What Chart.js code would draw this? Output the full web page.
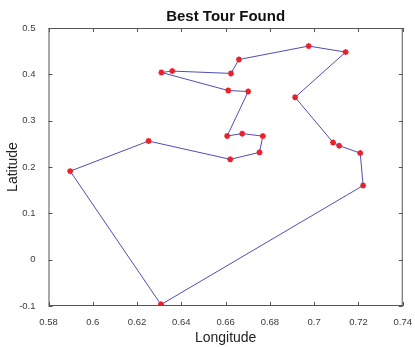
<!DOCTYPE html>
<html>
<head>
<meta charset="utf-8">
<script src="https://cdn.jsdelivr.net/npm/chart.js@4/dist/chart.umd.min.js"></script>
<style>
  html, body { margin: 0; padding: 0; background: #ffffff; }
  #wrap { width: 415px; height: 347px; }
</style>
</head>
<body>
<div id="wrap"><canvas id="c" width="415" height="347"></canvas></div>
<script>
// Tour order: city coordinates visited in sequence (tour closes on the first city)
const longitude = [0.6308, 0.5898, 0.6252, 0.6621, 0.6753, 0.6768, 0.6675, 0.6607, 0.6702, 0.6612,
                   0.6310, 0.6359, 0.6624, 0.6660, 0.6975, 0.7142, 0.6914, 0.7085, 0.7113, 0.7208,
                   0.7221, 0.6308];
const latitude  = [-0.097, 0.191, 0.256, 0.2165, 0.2316, 0.2667, 0.272, 0.267, 0.363, 0.365,
                   0.404, 0.407, 0.402, 0.432, 0.461, 0.448, 0.3505, 0.253, 0.246, 0.230,
                   0.160, -0.097];
const xTicks = [0.58, 0.60, 0.62, 0.64, 0.66, 0.68, 0.70, 0.72, 0.74];
const yTicks = [-0.1, 0, 0.1, 0.2, 0.3, 0.4, 0.5];

const points = longitude.map((x, i) => ({ x: x, y: latitude[i] }));

const axisColor = '#555555';
const labelColor = '#3a3a3a';

// Centre the title over the plot area rather than the whole canvas
const titleOverPlot = {
  id: 'titleOverPlot',
  afterLayout(chart) {
    const t = chart.titleBlock;
    if (t) {
      t.left = chart.chartArea.left;
      t.right = chart.chartArea.right;
      t.width = t.right - t.left;
    }
  }
};

// Full box around the plot with short inward ticks on all four sides
const boxTicks = {
  id: 'boxTicks',
  afterDraw(chart) {
    const { ctx, chartArea: a, scales } = chart;
    ctx.save();
    ctx.strokeStyle = axisColor;
    ctx.lineWidth = 1;
    ctx.strokeRect(a.left + 0.5, a.top + 0.5, a.right - a.left - 1, a.bottom - a.top - 1);
    const len = 4;
    ctx.beginPath();
    xTicks.forEach(v => {
      const px = Math.round(scales.x.getPixelForValue(v)) + 0.5;
      ctx.moveTo(px, a.bottom); ctx.lineTo(px, a.bottom - len);
      ctx.moveTo(px, a.top); ctx.lineTo(px, a.top + len);
    });
    yTicks.forEach(v => {
      const py = Math.round(scales.y.getPixelForValue(v)) + 0.5;
      ctx.moveTo(a.left, py); ctx.lineTo(a.left + len, py);
      ctx.moveTo(a.right, py); ctx.lineTo(a.right - len, py);
    });
    ctx.stroke();
    ctx.restore();
  }
};

const fmt = v => String(Number(Number(v).toFixed(2)));

new Chart(document.getElementById('c'), {
  type: 'scatter',
  data: {
    datasets: [{
      data: points,
      showLine: true,
      borderColor: '#4e4eb6',
      borderWidth: 1,
      pointStyle: 'star',
      pointRadius: 3,
      pointBorderColor: '#e8222a',
      pointBackgroundColor: '#e8222a',
      pointBorderWidth: 1.6,
      tension: 0
    }]
  },
  options: {
    responsive: false,
    animation: false,
    devicePixelRatio: 1,
    layout: { padding: { left: 0, right: 12, top: 0, bottom: 0 } },
    plugins: {
      legend: { display: false },
      tooltip: { enabled: false },
      title: {
        display: true,
        text: 'Best Tour Found',
        color: '#111111',
        font: { family: 'Liberation Sans, Arial, sans-serif', size: 15, weight: 'bold' },
        padding: { top: 8, bottom: 2 }
      }
    },
    scales: {
      x: {
        type: 'linear',
        min: 0.58,
        max: 0.74,
        afterBuildTicks: s => { s.ticks = xTicks.map(v => ({ value: v })); },
        afterFit: s => { s.height = 41; },
        grid: { display: false },
        border: { display: false },
        ticks: {
          callback: fmt,
          color: labelColor,
          padding: 3,
          maxRotation: 0,
          font: { family: 'Liberation Sans, Arial, sans-serif', size: 9.5 }
        },
        title: {
          display: true,
          text: 'Longitude',
          color: '#222222',
          font: { family: 'Liberation Sans, Arial, sans-serif', size: 14 },
          padding: { top: 0, bottom: 0 }
        }
      },
      y: {
        type: 'linear',
        min: -0.1,
        max: 0.5,
        afterBuildTicks: s => { s.ticks = yTicks.map(v => ({ value: v })); },
        afterFit: s => { s.width = 48.5; },
        grid: { display: false },
        border: { display: false },
        ticks: {
          callback: fmt,
          color: labelColor,
          padding: 5,
          font: { family: 'Liberation Sans, Arial, sans-serif', size: 9.5 }
        },
        title: {
          display: true,
          text: 'Latitude',
          color: '#222222',
          font: { family: 'Liberation Sans, Arial, sans-serif', size: 14 },
          padding: { top: 5, bottom: 0 }
        }
      }
    }
  },
  plugins: [titleOverPlot, boxTicks]
});
</script>
</body>
</html>
